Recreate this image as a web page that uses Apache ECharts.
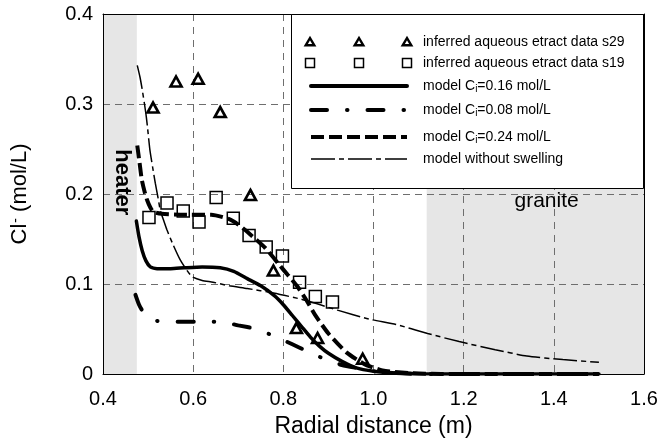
<!DOCTYPE html>
<html>
<head>
<meta charset="utf-8">
<script src="https://cdn.jsdelivr.net/npm/echarts@6/dist/echarts.min.js"></script>
<style>
html,body{margin:0;padding:0;background:#fff;}
#chart{width:663px;height:444px;}
</style>
</head>
<body>
<div id="chart"></div>
<script>
// ---- data ----
const xTickLabels = ['0.4','0.6','0.8','1.0','1.2','1.4','1.6'];
const yTickLabels = ['0','0.1','0.2','0.3','0.4'];

const s29X = [0.511,0.562,0.611,0.660,0.727,0.778,0.829,0.876,0.976];
const s29Y = [0.296,0.325,0.328,0.291,0.199,0.115,0.051,0.040,0.017];

const s19X = [0.502,0.542,0.578,0.613,0.651,0.689,0.724,0.762,0.798,0.836,0.871,0.909];
const s19Y = [0.174,0.190,0.181,0.169,0.196,0.173,0.154,0.141,0.131,0.102,0.086,0.080];

const m016X = [0.474,0.480,0.487,0.495,0.505,0.520,0.550,0.580,0.620,0.660,0.690,0.720,0.750,0.780,0.800,0.820,0.840,0.860,0.880,0.900,0.930,0.960,1.000,1.050,1.100,1.200,1.500];
const m016Y = [0.170,0.152,0.137,0.126,0.119,0.117,0.117,0.118,0.119,0.118,0.114,0.106,0.098,0.087,0.077,0.065,0.053,0.041,0.031,0.023,0.014,0.007,0.003,0.001,0.0003,0,0];

const m008X = [0.472,0.480,0.490,0.500,0.520,0.560,0.620,0.660,0.700,0.740,0.780,0.820,0.850,0.890,0.930,0.970,1.000,1.050,1.100,1.500];
const m008Y = [0.088,0.077,0.068,0.063,0.059,0.058,0.058,0.058,0.054,0.050,0.042,0.033,0.026,0.017,0.010,0.006,0.003,0.001,0,0];

const m024X = [0.476,0.481,0.486,0.492,0.498,0.505,0.512,0.530,0.580,0.640,0.680,0.700,0.720,0.760,0.790,0.810,0.830,0.850,0.870,0.900,0.940,0.980,1.020,1.080,1.150,1.500];
const m024Y = [0.254,0.235,0.216,0.203,0.193,0.185,0.180,0.178,0.177,0.177,0.172,0.166,0.158,0.140,0.122,0.110,0.098,0.083,0.066,0.045,0.024,0.011,0.004,0.001,0,0];

const noSwX = [0.476,0.482,0.487,0.492,0.496,0.500,0.504,0.510,0.516,0.522,0.527,0.535,0.542,0.556,0.571,0.585,0.598,0.620,0.644,0.680,0.720,0.778,0.840,0.920,0.990,1.050,1.120,1.190,1.270,1.340,1.420,1.500];
const noSwY = [0.343,0.330,0.316,0.300,0.286,0.268,0.249,0.230,0.212,0.196,0.182,0.170,0.160,0.143,0.127,0.116,0.108,0.104,0.102,0.098,0.095,0.090,0.083,0.071,0.061,0.055,0.045,0.036,0.027,0.020,0.016,0.013];

const heaterRange = [0.4, 0.475];
const graniteRange = [1.118, 1.6];

const legendLabels = [
  'inferred aqueous etract data s29',
  'inferred aqueous etract data s19',
  'model C{sub|i}=0.16 mol/L',
  'model C{sub|i}=0.08 mol/L',
  'model C{sub|i}=0.24 mol/L',
  'model without swelling'
];

// ---- helpers ----
function pairs(xs, ys){ return xs.map((x,i)=>[x, ys[i]]); }
const FONT = '"Liberation Sans", Arial, Helvetica, sans-serif';

const chart = echarts.init(document.getElementById('chart'), null, {renderer:'canvas'});

const dashDot = [16,20,0.5,20];
const dashed = [13,5];
const thinDashDot = [24,4,5,4];

const option = {
  backgroundColor: '#fff',
  animation: false,
  grid: { left: 103, right: 19, top: 14, bottom: 70, containLabel: false },
  xAxis: [{
    type: 'value', min: 0.4, max: 1.6, interval: 0.2,
    name: 'Radial distance (m)', nameLocation: 'middle', nameGap: 41,
    nameTextStyle: { fontFamily: FONT, fontSize: 23, color: '#000' },
    axisLine: { show: true, lineStyle: { color: '#000', width: 1 } },
    axisTick: { show: false },
    axisLabel: { margin: 15, fontFamily: FONT, fontSize: 20, color: '#000',
      formatter: v => xTickLabels[Math.round((v - 0.4) / 0.2)] },
    splitLine: { show: true, lineStyle: { color: '#6e6e6e', width: 1, type: [7,6] } }
  },{
    type: 'value', min: 0.4, max: 1.6, position: 'top',
    axisLine: { show: true, onZero: false, lineStyle: { color: '#000', width: 1 } },
    axisTick: { show: false }, axisLabel: { show: false }, splitLine: { show: false }
  }],
  yAxis: [{
    type: 'value', min: 0, max: 0.4, interval: 0.1,
    name: 'Cl{sup|-} (mol/L)', nameLocation: 'middle', nameGap: 72,
    nameTextStyle: { fontFamily: FONT, fontSize: 22, color: '#000',
      rich: { sup: { fontFamily: FONT, fontSize: 14, color: '#000', verticalAlign: 'top', padding: [0,0,6,1] } } },
    axisLine: { show: true, lineStyle: { color: '#000', width: 1 } },
    axisTick: { show: false },
    axisLabel: { margin: 10, fontFamily: FONT, fontSize: 20, color: '#000',
      formatter: v => yTickLabels[Math.round(v / 0.1)] },
    splitLine: { show: true, lineStyle: { color: '#6e6e6e', width: 1, type: [7,5] } }
  },{
    type: 'value', min: 0, max: 0.4, position: 'right',
    axisLine: { show: true, onZero: false, lineStyle: { color: '#000', width: 1 } },
    axisTick: { show: false }, axisLabel: { show: false }, splitLine: { show: false }
  }],
  series: [
    {
      name: 'shade', type: 'line', data: [], z: -1, silent: true,
      markArea: {
        silent: true, z: -1,
        itemStyle: { color: '#e6e6e6' },
        data: [
          [{ xAxis: heaterRange[0] }, { xAxis: heaterRange[1] }],
          [{ xAxis: graniteRange[0] }, { xAxis: graniteRange[1] }]
        ]
      }
    },
    {
      name: 'model without swelling', type: 'line', data: pairs(noSwX, noSwY),
      showSymbol: false, smooth: 0.2, z: 3,
      lineStyle: { color: '#000', width: 1.5, type: thinDashDot }
    },
    {
      name: 'model Ci=0.16', type: 'line', data: pairs(m016X, m016Y),
      showSymbol: false, smooth: 0.2, z: 3,
      lineStyle: { color: '#000', width: 3.5, type: 'solid', cap: 'round' }
    },
    {
      name: 'model Ci=0.08', type: 'line', data: pairs(m008X, m008Y),
      showSymbol: false, smooth: 0.2, z: 3,
      lineStyle: { color: '#000', width: 4, type: dashDot, cap: 'round' }
    },
    {
      name: 'model Ci=0.24', type: 'line', data: pairs(m024X, m024Y),
      showSymbol: false, smooth: 0.2, z: 3,
      lineStyle: { color: '#000', width: 4, type: dashed, cap: 'butt' }
    },
    {
      name: 's29', type: 'scatter', data: pairs(s29X, s29Y), z: 4,
      symbol: 'triangle', symbolSize: [11, 10],
      itemStyle: { color: 'rgba(0,0,0,0)', borderColor: '#000', borderWidth: 2.6, opacity: 1 }
    },
    {
      name: 's19', type: 'scatter', data: pairs(s19X, s19Y), z: 4,
      symbol: 'rect', symbolSize: 12,
      itemStyle: { color: 'rgba(0,0,0,0)', borderColor: '#000', borderWidth: 1.5, opacity: 1 }
    }
  ]
};
chart.setOption(option);

// ---- legend box and annotations (graphic) ----
const lgLeft = 291, lgTop = 14, lgW = 353, lgH = 174;
const symX = [310, 359, 407];
const rowY = [42, 63, 86, 110, 137, 159];
const textX = 423;
const LEG_FS = 14;
const g = [];
g.push({ type: 'rect', z: 100, shape: { x: lgLeft + 0.5, y: lgTop + 0.5, width: lgW - 1, height: lgH },
  style: { fill: '#fff', stroke: '#000', lineWidth: 1 } });
symX.forEach(cx => {
  const cy = rowY[0];
  g.push({ type: 'polygon', z: 101, shape: { points: [[cx, cy - 4], [cx + 4.3, cy + 3.3], [cx - 4.3, cy + 3.3]] },
    style: { fill: 'none', stroke: '#000', lineWidth: 2.4 } });
  g.push({ type: 'rect', z: 101, shape: { x: cx - 4.5, y: rowY[1] - 4.5, width: 9, height: 9 },
    style: { fill: 'none', stroke: '#000', lineWidth: 1.5 } });
});
const lineStyles = [
  { lineWidth: 4, lineDash: null, lineCap: 'round' },
  { lineWidth: 4, lineDash: dashDot, lineCap: 'round' },
  { lineWidth: 4, lineDash: dashed, lineCap: 'butt' },
  { lineWidth: 1.5, lineDash: thinDashDot, lineCap: 'butt' }
];
lineStyles.forEach((ls, i) => {
  const y = rowY[i + 2];
  const st = { stroke: '#000', lineWidth: ls.lineWidth, lineCap: ls.lineCap };
  if (ls.lineDash) st.lineDash = ls.lineDash;
  g.push({ type: 'line', z: 101, shape: { x1: 311, y1: y, x2: 407, y2: y }, style: st });
});
legendLabels.forEach((t, i) => {
  const style = { text: t, fill: '#000', fontSize: LEG_FS, fontFamily: FONT, verticalAlign: 'middle', align: 'left' };
  if (t.indexOf('{') >= 0) {
    style.rich = { sub: { fontSize: 10, fontFamily: FONT, fill: '#000', verticalAlign: 'bottom', padding: [7, 0, 0, 0] } };
  }
  g.push({ type: 'text', z: 101, x: textX, y: rowY[i], style });
});
// annotations positioned from data coordinates
const hp = chart.convertToPixel({ xAxisIndex: 0, yAxisIndex: 0 }, [0.442, 0.213]);
const gp = chart.convertToPixel({ xAxisIndex: 0, yAxisIndex: 0 }, [1.384, 0.192]);
g.push({ type: 'text', z: 50, x: hp[0], y: hp[1], rotation: -Math.PI / 2,
  style: { text: 'heater', fill: '#000', fontSize: 22, fontWeight: 'bold', fontFamily: FONT, align: 'center', verticalAlign: 'middle' } });
g.push({ type: 'text', z: 50, x: gp[0], y: gp[1],
  style: { text: 'granite', fill: '#000', fontSize: 21, fontFamily: FONT, align: 'center', verticalAlign: 'middle' } });
chart.setOption({ graphic: g });
</script>
</body>
</html>
